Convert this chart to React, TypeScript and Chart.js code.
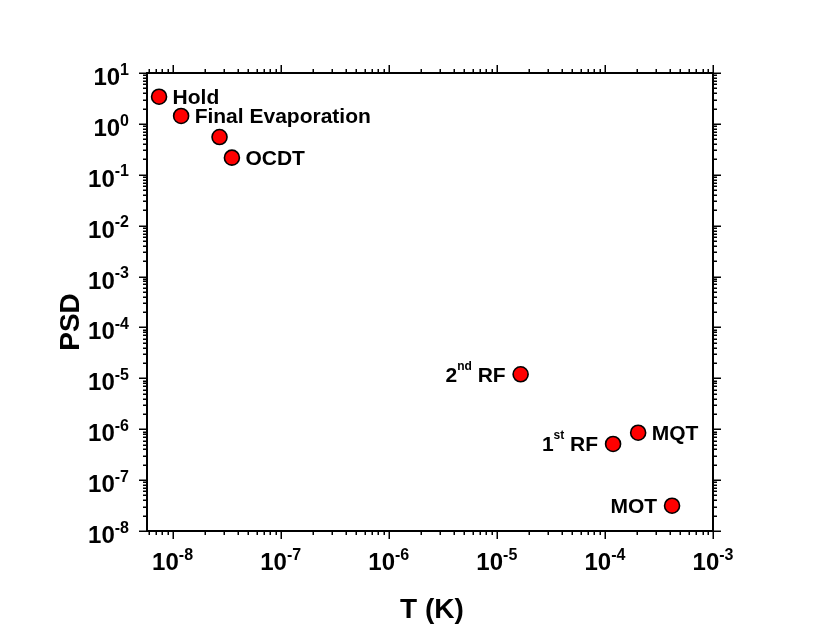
import React, { useEffect, useRef } from "react";
import { Chart, registerables } from "chart.js";

Chart.register(...registerables);

// ---- data ----
const temperatures = [7.5e-9, 1.2e-8, 2.72e-8, 3.54e-8, 1.66e-5, 1.19e-4, 2.03e-4, 4.18e-4];
const psdValues = [3.42, 1.43, 0.552, 0.217, 1.2e-5, 5.13e-7, 8.55e-7, 3.14e-8];
const pointLabels = ["Hold", "Final Evaporation", "", "OCDT", "2^{nd} RF", "1^{st} RF", "MQT", "MOT"];
const labelSides = ["right", "right", "", "right", "left", "left", "right", "left"];
const xTickExponents = [-8, -7, -6, -5, -4, -3];
const yTickExponents = [1, 0, -1, -2, -3, -4, -5, -6, -7, -8];
const xRange = [5.8e-9, 1e-3];
const yRange = [1e-8, 10];
const xTitle = "T (K)";
const yTitle = "PSD";

const FONT = '"Liberation Sans", Arial, Helvetica, sans-serif';

type Seg = { t: string; sup: boolean };
function parseRich(s: string): Seg[] {
  const out: Seg[] = [];
  const re = /\^\{([^}]*)\}/g;
  let last = 0;
  let m: RegExpExecArray | null;
  while ((m = re.exec(s)) !== null) {
    if (m.index > last) out.push({ t: s.slice(last, m.index), sup: false });
    out.push({ t: m[1], sup: true });
    last = m.index + m[0].length;
  }
  if (last < s.length) out.push({ t: s.slice(last), sup: false });
  return out;
}

function logValues(min: number, max: number) {
  const res: { v: number; major: boolean }[] = [];
  const e0 = Math.floor(Math.log10(min));
  const e1 = Math.ceil(Math.log10(max));
  for (let e = e0; e <= e1; e++) {
    for (let k = 1; k <= 9; k++) {
      const v = k * Math.pow(10, e);
      if (v >= min * (1 - 1e-9) && v <= max * (1 + 1e-9)) res.push({ v, major: k === 1 });
    }
  }
  return res;
}

const decorPlugin = {
  id: "decor",
  afterDraw(chart: any) {
    const ctx: CanvasRenderingContext2D = chart.ctx;
    const a = chart.chartArea;
    const xs = chart.scales.x;
    const ys = chart.scales.y;
    ctx.save();
    ctx.strokeStyle = "#000";
    ctx.fillStyle = "#000";

    // ticks
    ctx.lineWidth = 1.5;
    const MAJ = 8;
    const MIN = 4;
    ctx.beginPath();
    for (const t of logValues(xRange[0], xRange[1])) {
      const px = Math.round(xs.getPixelForValue(t.v)) + 0.25;
      const len = t.major ? MAJ : MIN;
      ctx.moveTo(px, a.bottom);
      ctx.lineTo(px, a.bottom + len);
      ctx.moveTo(px, a.top);
      ctx.lineTo(px, a.top - len);
    }
    for (const t of logValues(yRange[0], yRange[1])) {
      const py = Math.round(ys.getPixelForValue(t.v)) + 0.25;
      const len = t.major ? MAJ : MIN;
      ctx.moveTo(a.left, py);
      ctx.lineTo(a.left - len, py);
      ctx.moveTo(a.right, py);
      ctx.lineTo(a.right + len, py);
    }
    ctx.stroke();

    // frame
    ctx.lineWidth = 2;
    ctx.strokeRect(a.left, a.top, a.right - a.left, a.bottom - a.top);

    // tick labels
    const baseFont = `bold 24px ${FONT}`;
    const expFont = `bold 16px ${FONT}`;
    ctx.textBaseline = "alphabetic";
    ctx.textAlign = "left";
    for (const e of xTickExponents) {
      const px = xs.getPixelForValue(Math.pow(10, e));
      ctx.font = baseFont;
      const w1 = ctx.measureText("10").width;
      ctx.font = expFont;
      const w2 = ctx.measureText(String(e)).width;
      const x0 = px - (w1 + w2) / 2;
      ctx.font = baseFont;
      ctx.fillText("10", x0, a.bottom + 39);
      ctx.font = expFont;
      ctx.fillText(String(e), x0 + w1, a.bottom + 29);
    }
    for (const e of yTickExponents) {
      const py = ys.getPixelForValue(Math.pow(10, e));
      ctx.font = baseFont;
      const w1 = ctx.measureText("10").width;
      ctx.font = expFont;
      const w2 = ctx.measureText(String(e)).width;
      const xr = a.left - 18;
      const x0 = xr - w1 - w2;
      ctx.font = baseFont;
      ctx.fillText("10", x0, py + 12);
      ctx.font = expFont;
      ctx.fillText(String(e), x0 + w1, py + 1.7);
    }

    // axis titles
    ctx.font = `bold 28px ${FONT}`;
    ctx.textAlign = "center";
    ctx.fillText(xTitle, (a.left + a.right) / 2 + 2, a.bottom + 87);
    ctx.save();
    ctx.translate(79, (a.top + a.bottom) / 2 + 20);
    ctx.rotate(-Math.PI / 2);
    ctx.fillText(yTitle, 0, 0);
    ctx.restore();

    // point labels
    const meta = chart.getDatasetMeta(0);
    const mainFont = `bold 21px ${FONT}`;
    const supFont = `bold 12px ${FONT}`;
    ctx.textAlign = "left";
    pointLabels.forEach((lab, i) => {
      if (!lab) return;
      const el = meta.data[i];
      if (!el) return;
      const segs = parseRich(lab);
      let total = 0;
      const widths = segs.map((s) => {
        ctx.font = s.sup ? supFont : mainFont;
        const w = ctx.measureText(s.t).width;
        total += w;
        return w;
      });
      let x = labelSides[i] === "left" ? el.x - 15 - total : el.x + 13.5;
      const base = el.y + 7.3;
      segs.forEach((s, k) => {
        ctx.font = s.sup ? supFont : mainFont;
        ctx.fillText(s.t, x, s.sup ? base - 12 : base);
        x += widths[k];
      });
    });

    ctx.restore();
  },
};

export default function App() {
  const ref = useRef<HTMLCanvasElement | null>(null);
  useEffect(() => {
    if (!ref.current) return;
    const pts = temperatures.map((t, i) => ({ x: t, y: psdValues[i] }));
    const chart = new Chart(ref.current, {
      type: "scatter",
      data: {
        datasets: [
          {
            data: pts,
            pointRadius: 7.5,
            pointHoverRadius: 7.5,
            backgroundColor: "#ff0000",
            borderColor: "#000000",
            borderWidth: 1.6,
            clip: false as any,
          },
          {
            data: pts,
            pointRadius: 1.2,
            pointHoverRadius: 1.2,
            backgroundColor: "#000000",
            borderWidth: 0,
            clip: false as any,
          },
        ],
      },
      options: {
        responsive: false,
        animation: false,
        events: [],
        layout: { padding: { left: 147, top: 73, right: 117, bottom: 105 } },
        scales: {
          x: { type: "logarithmic", min: xRange[0], max: xRange[1], display: false },
          y: { type: "logarithmic", min: yRange[0], max: yRange[1], display: false },
        },
        plugins: { legend: { display: false }, tooltip: { enabled: false } },
      },
      plugins: [decorPlugin],
    });
    return () => chart.destroy();
  }, []);
  return (
    <div style={{ position: "fixed", left: 0, top: 0, width: 830, height: 636, background: "#fff" }}>
      <canvas ref={ref} width={830} height={636} style={{ display: "block", width: 830, height: 636 }} />
    </div>
  );
}
